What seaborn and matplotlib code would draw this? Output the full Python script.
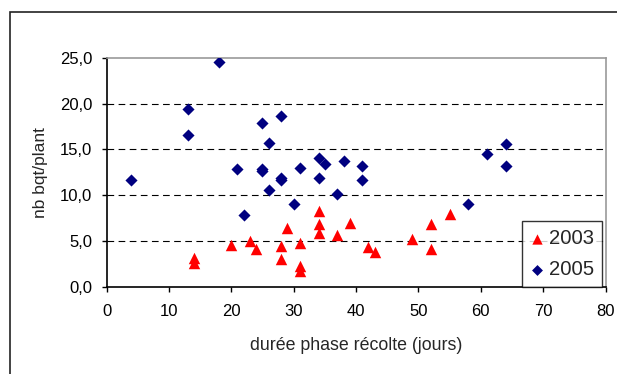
import matplotlib
matplotlib.use("Agg")
import matplotlib.pyplot as plt
import matplotlib.ticker as mticker
from matplotlib.patches import Rectangle
import pandas as pd
import seaborn as sns

# === données ===
x_2003 = [14, 14, 20, 23, 24, 28, 28, 29, 31, 31, 31, 34, 34, 34, 37, 39, 42, 43, 49, 52, 52, 55]
y_2003 = [3.1, 2.6, 4.6, 5.0, 4.1, 4.4, 3.0, 6.4, 4.8, 2.3, 1.75, 8.3, 6.85, 5.9, 5.6, 7.0, 4.3, 3.8, 5.2, 6.8, 4.1, 7.9]

x_2005 = [4, 13, 13, 18, 21, 22, 25, 25, 25, 26, 26, 28, 28, 28, 30, 31, 34, 34, 35, 37, 38, 41, 41, 58, 61, 64, 64]
y_2005 = [11.6, 19.4, 16.6, 24.5, 12.8, 7.8, 17.9, 12.8, 12.6, 15.7, 10.6, 18.6, 11.9, 11.7, 9.0, 13.0, 14.0, 11.9, 13.4, 10.1, 13.7, 13.2, 11.6, 9.0, 14.5, 15.6, 13.2]

df_2003 = pd.DataFrame({"duree": x_2003, "nb": y_2003})
df_2005 = pd.DataFrame({"duree": x_2005, "nb": y_2005})

# === style ===
sns.set_theme(style="white")
plt.rcParams["font.family"] = ["Liberation Sans", "DejaVu Sans"]

fig = plt.figure(figsize=(6.17, 3.74), dpi=100)
ax = fig.add_axes([106.5 / 617, 1 - 286.7 / 374, 499 / 617, 229 / 374])

# cadre de la zone de graphique (coupé à droite et en bas)
fig.patches.append(Rectangle((10.5 / 617, -0.1), 1.2, 1 - 11.7 / 374 + 0.1,
                             transform=fig.transFigure, fill=False,
                             edgecolor="#222222", linewidth=1.2))

sns.scatterplot(data=df_2003, x="duree", y="nb", marker="^", color="#FF0000",
                s=68, linewidth=0, ax=ax, zorder=3, label="2003")
sns.scatterplot(data=df_2005, x="duree", y="nb", marker="D", color="#000080",
                s=38, linewidth=0, ax=ax, zorder=3, label="2005")

ax.set_xlim(0, 80)
ax.set_ylim(0, 25)
ax.xaxis.set_major_locator(mticker.MultipleLocator(10))
ax.yaxis.set_major_locator(mticker.MultipleLocator(5))
ax.yaxis.set_major_formatter(mticker.FuncFormatter(lambda v, p: f"{v:.1f}".replace(".", ",")))

for v in [5, 10, 15, 20]:
    ax.axhline(v, color="black", linestyle=(0, (6, 4)), linewidth=0.8, zorder=1)

for side in ["top", "right"]:
    ax.spines[side].set_color("#999999")
    ax.spines[side].set_linewidth(1.2)
for side in ["left", "bottom"]:
    ax.spines[side].set_color("black")
    ax.spines[side].set_linewidth(1.2)

ax.tick_params(axis="both", direction="out", length=3.6, width=1, color="black",
               labelsize=12, labelcolor="black", left=True, bottom=True)
ax.tick_params(axis="x", pad=8.5)
ax.tick_params(axis="y", pad=6.5)

ax.set_xlabel("durée phase récolte (jours)", fontsize=12.8, labelpad=13)
ax.set_ylabel("nb bqt/plant", fontsize=12.5, labelpad=9)

# légende
handles, labels = ax.get_legend_handles_labels()
leg = ax.legend(handles, labels, loc="lower right", bbox_to_anchor=(0.992, 0.0),
                frameon=True, fancybox=False, borderaxespad=0, fontsize=14.6,
                handletextpad=0.2, handlelength=0.75, labelspacing=0.6,
                borderpad=0.38, markerscale=0.9)
leg.get_frame().set_edgecolor("black")
leg.get_frame().set_linewidth(1.0)

fig.savefig("out.png", dpi=100)
